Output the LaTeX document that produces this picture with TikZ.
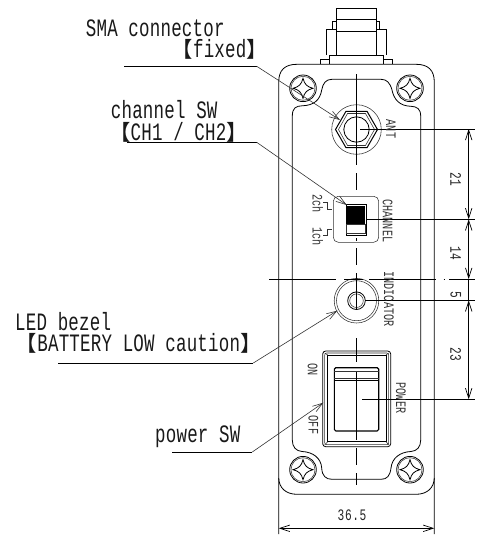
\documentclass[tikz,border=0pt]{standalone}
\usepackage{fontspec}
\usetikzlibrary{arrows.meta}
\newfontfamily\gothicfont[FakeStretch=0.7,LetterSpace=0.8]{Liberation Mono}
\newfontfamily\dimfont[FakeStretch=0.7,LetterSpace=3.5]{Liberation Mono}
\newfontfamily\bracketfont{Noto Sans CJK JP}
\newcommand{\lb}{\smash{\bracketfont\fontsize{21.4}{24}\selectfont 【}}
\newcommand{\rb}{\smash{\bracketfont\fontsize{21.4}{24}\selectfont 】}}
\tikzset{
  part/.style={draw=black, line width=0.8pt},
  thin part/.style={draw=black!80, line width=0.55pt},
  center line/.style={draw=black, line width=0.8pt},
  leader/.style={draw=black!80, line width=0.6pt, ->},
  leader base/.style={draw=black, line width=0.9pt},
  dim line/.style={draw=black, line width=0.7pt},
  callout/.style={inner sep=0pt, text=black!90, font=\gothicfont\fontsize{25}{27}\selectfont},
  panel text/.style={inner sep=0pt, rotate=-90, text=black!80, font=\gothicfont\fontsize{14.5}{16}\selectfont},
  dim text/.style={inner sep=0pt, text=black!85, font=\dimfont\fontsize{16}{18}\selectfont},
  >={Straight Barb[length=10pt,width=6.5pt]},
}
\begin{document}
\begin{tikzpicture}[x=1pt, y=-1pt]
  \useasboundingbox (0,0) rectangle (485,536);

  % SMA connector body
  \draw [part] (336.3,8.3) rectangle (376.7,19.3);
  \draw [part] (336.3,19.3) -- (336.3,55.3) (376.7,19.3) -- (376.7,55.3);
  \draw [part] (336.3,31.5) -- (376.7,31.5);
  \draw [part] (336.3,21) -- (332.7,21) -- (332.7,29.6) -- (336.3,29.6);
  \draw [part] (376.7,21) -- (379.7,21) -- (379.7,29.6) -- (376.7,29.6);
  \draw [part] (332.7,29.6) -- (326.3,29.6) -- (326.3,55.3);
  \draw [part] (379.7,29.6) -- (386.3,29.6) -- (386.3,55.3);
  \draw [part] (329.7,64.3) -- (329.7,55.3) -- (383.7,55.3) -- (383.7,64.3);
  \draw [part] (329.7,59.3) -- (320.3,59.3) -- (320.3,64.3);
  \draw [part] (383.7,59.3) -- (392.7,59.3) -- (392.7,64.3);

  % housing outline
  \draw [part] (278.7,534) -- (278.7,82) .. controls (278.7,70) and (285,64.3) .. (297,64.3)
    -- (416,64.3) .. controls (428,64.3) and (434.3,70) .. (434.3,82) -- (434.3,534);
  \draw [part] (278.7,478) .. controls (279,488) and (286,494.3) .. (297,494.3)
    -- (416,494.3) .. controls (427,494.3) and (434,488) .. (434.3,478);

  % panel outline
  \draw [part] (292.3,440) -- (292.3,116) .. controls (292.3,108) and (296,106) .. (302,105.8)
    .. controls (314,105.5) and (320,100) .. (321.7,90)
    .. controls (323,83) and (326,79.3) .. (332,79.3) -- (381,79.3)
    .. controls (387,79.3) and (390,83) .. (392,90)
    .. controls (394,100) and (400,106) .. (411,106.3)
    .. controls (417,106.5) and (420.7,109) .. (420.7,116) -- (420.7,440)
    .. controls (420.7,447) and (417,451) .. (411,451.5)
    .. controls (400,452) and (392,458) .. (391,468)
    .. controls (390,476) and (387,479.3) .. (381,479.3) -- (332,479.3)
    .. controls (326,479.3) and (322,476) .. (321.7,468)
    .. controls (321,458) and (313,452) .. (302,451.5)
    .. controls (296,451) and (292.3,447) .. (292.3,440);

  % screws
  \foreach \sx/\sy in {303/88.3, 410/88.3, 303/469.7, 410/469.7} {
    \draw [part] (\sx,\sy) circle (13.3);
    \draw [thin part] (\sx,\sy) circle (12);
    \draw [part, shift={(\sx,\sy)}] (0,-10) .. controls (1.5,-4) and (4,-1.5) .. (10,0)
      .. controls (4,1.5) and (1.5,4) .. (0,10) .. controls (-1.5,4) and (-4,1.5) .. (-10,0)
      .. controls (-4,-1.5) and (-1.5,-4) .. (0,-10) -- cycle;
  }

  % SMA nut
  \draw [thin part] (356.5,129.5) circle (24.8);
  \draw [part, line width=1pt] (335.5,129.5) -- (346,111.3) -- (367,111.3) -- (377.5,129.5)
    -- (367,147.7) -- (346,147.7) -- cycle;
  \draw [thin part] (338.5,129.5) -- (347.5,113.5) -- (365.5,113.5) -- (374.5,129.5)
    -- (365.5,145.5) -- (347.5,145.5) -- cycle;
  \draw [part] (356.5,129.5) circle (12.7);

  % channel switch
  \draw [thin part, rounded corners=5pt] (333.3,196.3) rectangle (378.7,242.3);
  \draw [part, line width=1pt] (346,204.3) rectangle (366.7,235);
  \fill [black] (346.7,205.7) rectangle (365,224);
  \draw [thin part] (346.7,224) rectangle (365,233.3);
  \draw [thin part] (323.3,202.3) -- (327.3,202.3) -- (327.3,209.3) -- (331.7,209.3);
  \draw [thin part] (323.3,235.7) -- (327.3,235.7) -- (327.3,229) -- (331.7,229);

  % LED bezel
  \draw [thin part] (356.5,300.7) circle (22.3);
  \draw [thin part] (356.5,300.7) circle (20);
  \draw [part] (356.5,300.7) circle (8.8);
  \draw [thin part] (356.5,300.7) circle (6.8);

  % power switch
  \draw [part, rounded corners=3pt] (322.7,351) rectangle (390.7,446.7);
  \draw [thin part, rounded corners=2pt] (324.7,353) rectangle (388.7,444.7);
  \draw [part] (327.7,355) rectangle (386,441.7);
  \foreach \ax/\ay/\bx/\by in {324.7/353/327.7/355, 388.7/353/386/355, 324.7/444.7/327.7/441.7, 388.7/444.7/386/441.7}
    \draw [thin part] (\ax,\ay) -- (\bx,\by);
  \draw [part, line width=1.1pt, rounded corners=1.5pt] (334.3,367.7) rectangle (378.7,431);
  \draw [thin part] (334.3,371) -- (378.7,371);
  \draw [thin part] (334.3,378.3) -- (378.7,378.3);
  \draw [part] (334.3,380.7) -- (378.7,380.7);

  % center lines
  \foreach \ya/\yb in {74/165, 173/190, 238/241, 248/265, 273/310, 338/362, 372/440, 448/465, 473/485}
    \draw [center line] (356.5,\ya) -- (356.5,\yb);
  \foreach \xa/\xb in {269/336, 344.3/363.3, 369.3/436, 443.7/445, 449/475}
    \draw [center line] (\xa,279) -- (\xb,279);

  % dimension lines
  \coordinate (antmark) at (360,129);
  \coordinate (chmark) at (366.7,219.3);
  \coordinate (ledmark) at (365,300.3);
  \coordinate (pwrmark) at (362.3,399.3);
  \coordinate (dimtop) at (468.7,129);
  \coordinate (dimch) at (468.7,219.3);
  \coordinate (dimmid) at (468.7,279);
  \coordinate (dimled) at (468.7,300.3);
  \coordinate (dimpwr) at (468.7,399.3);
  \coordinate (dimleft) at (278.7,528.3);
  \coordinate (dimright) at (434.3,528.3);
  \draw [dim line] (antmark) -- ++(115,0);
  \draw [dim line] (chmark) -- ++(108.3,0);
  \draw [dim line] (ledmark) -- ++(110,0);
  \draw [dim line] (pwrmark) -- ++(112.7,0);
  \draw [dim line, <->] (dimtop) -- (dimch);
  \draw [dim line, <->] (dimch) -- (dimmid);
  \draw [dim line] (dimmid) -- (dimled);
  \draw [dim line, <->] (dimled) -- (dimpwr);
  \draw [dim line, <->] (dimleft) -- (dimright);

  % texts on the panel
  \node [panel text] (antlabel) at (391,129) {ANT};
  \node [panel text] (channellabel) at (387.7,220.7) {CHANNEL};
  \node [panel text] (indicatorlabel) at (389,299) {INDICATOR};
  \node [panel text] (powerlabel) at (401,398) {POWER};
  \node [panel text] (twochlabel) at (317.7,203.3) {2ch};
  \node [panel text] (onechlabel) at (317.7,236.7) {1ch};
  \node [panel text] (onlabel) at (312.7,369.3) {ON};
  \node [panel text] (offlabel) at (313.3,425) {OFF};

  % dimension values
  \node [dim text, rotate=-90] (dimA) at (455.7,179.5) {21};
  \node [dim text, rotate=-90] (dimB) at (455.7,253.3) {14};
  \node [dim text, rotate=-90] (dimC) at (455.7,295) {5};
  \node [dim text, rotate=-90] (dimD) at (455.7,354.3) {23};
  \node [dim text] (dimE) at (352,515) {36.5};

  % callouts
  \node [callout, anchor=west] (smalabel) at (85.7,28) {SMA connector};
  \node [callout, anchor=east] (fixedlabel) at (268,49) {\lb fixed\rb};
  \node [callout, anchor=west] (chlabel) at (110.7,110) {channel SW};
  \node [callout, anchor=east] (chmodelabel) at (248,131.7) {\lb CH1 / CH2\rb};
  \node [callout, anchor=west] (ledlabel) at (15,321.7) {LED bezel};
  \node [callout, anchor=east] (batterylabel) at (261.7,342.7) {\lb BATTERY LOW caution\rb};
  \node [callout, anchor=west] (pwrlabel) at (155,436.7) {power SW};

  % leaders
  \coordinate (smastart) at (124,66.3);
  \coordinate (smabend) at (256.7,66.3);
  \coordinate (smatip) at (340,120);
  \coordinate (chstart) at (127.3,142.3);
  \coordinate (chbend) at (256.7,142.3);
  \coordinate (chtip) at (346.7,205);
  \coordinate (ledstart) at (58.3,363);
  \coordinate (ledbend) at (253.3,363);
  \coordinate (ledtip) at (337.3,310.7);
  \coordinate (pwrstart) at (172.3,452);
  \coordinate (pwrbend) at (252.3,452);
  \coordinate (pwrtip) at (323.3,402.7);
  \foreach \lname in {sma, ch, led, pwr} {
    \draw [leader base] (\lname start) -- (\lname bend);
    \draw [leader] (\lname bend) -- (\lname tip);
  }
\end{tikzpicture}
\end{document}
